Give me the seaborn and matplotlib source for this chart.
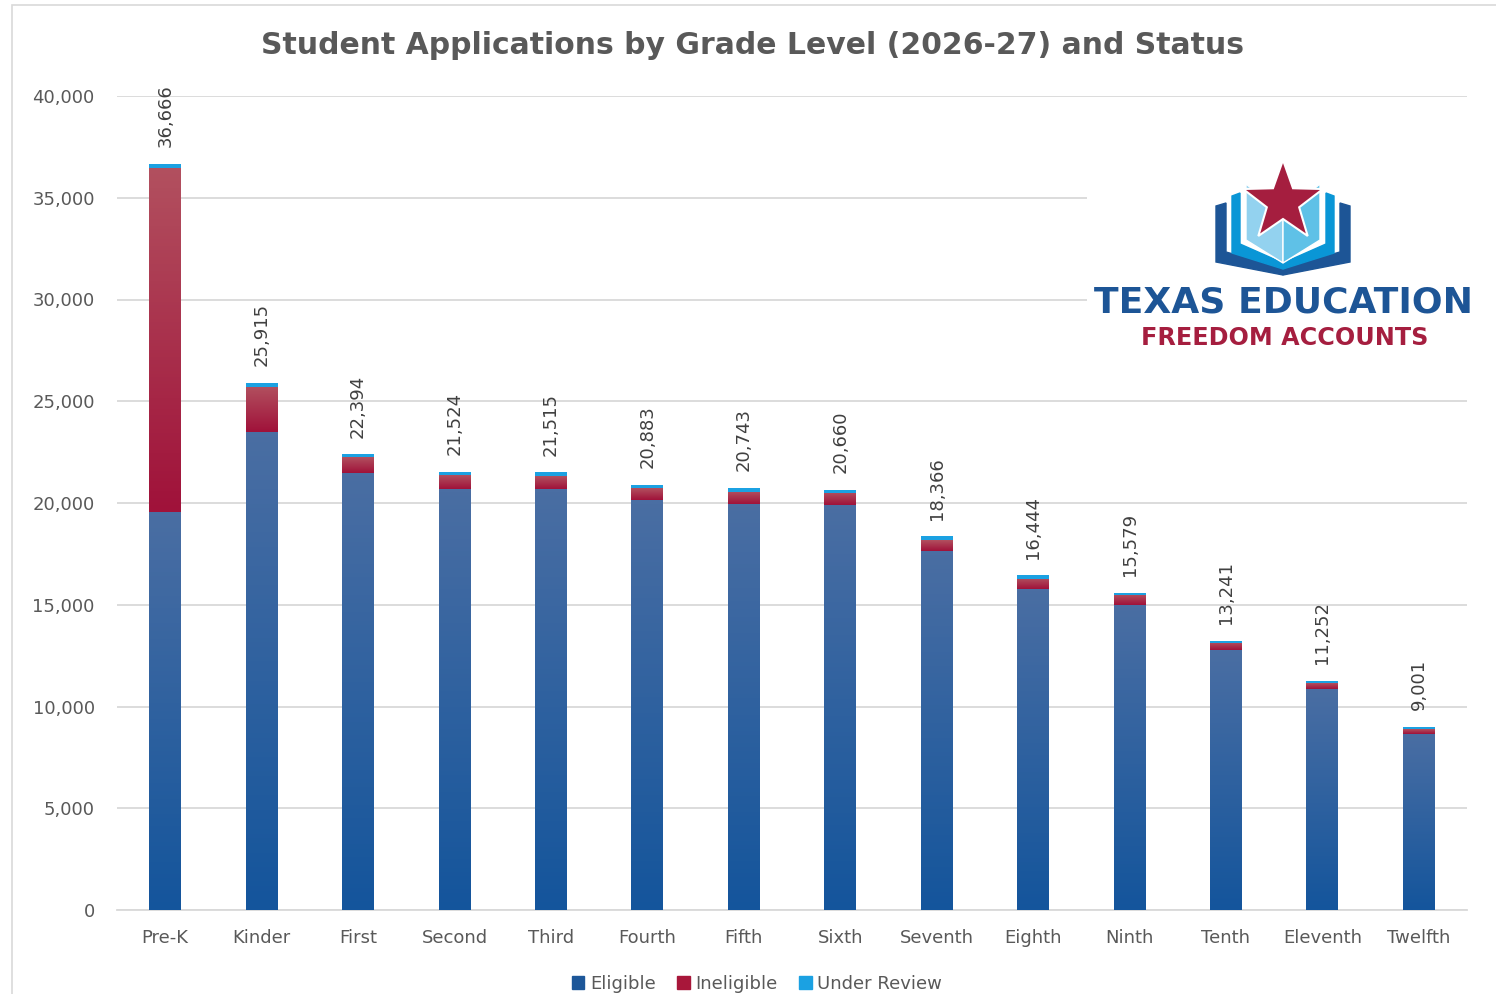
import numpy as np
import pandas as pd
import matplotlib
matplotlib.use("Agg")
import matplotlib.pyplot as plt
from matplotlib.colors import LinearSegmentedColormap
from matplotlib.patches import Rectangle
import seaborn as sns

grades = ["Pre-K", "Kinder", "First", "Second", "Third", "Fourth", "Fifth",
          "Sixth", "Seventh", "Eighth", "Ninth", "Tenth", "Eleventh", "Twelfth"]
eligible = [19540, 23480, 21490, 20690, 20690, 20130, 19970,
            19900, 17640, 15790, 14980, 12760, 10860, 8660]
ineligible = [16930, 2235, 774, 684, 625, 583, 593,
              595, 526, 494, 499, 381, 292, 241]
under_review = [196, 200, 130, 150, 200, 170, 180,
                165, 200, 160, 100, 100, 100, 100]
totals = [36666, 25915, 22394, 21524, 21515, 20883, 20743,
          20660, 18366, 16444, 15579, 13241, 11252, 9001]

df = pd.DataFrame({"grade": grades, "eligible": eligible,
                   "ineligible": ineligible, "review": under_review,
                   "total": totals})
df["elig_inelig"] = df["eligible"] + df["ineligible"]

sns.set_theme(style="white")
plt.rcParams["font.family"] = ["DejaVu Sans"]

fig = plt.figure(figsize=(14.96, 9.94), dpi=100)
ax = fig.add_axes([117 / 1496, 84 / 994, 1350 / 1496, 814 / 994])

text_col = "#595959"
width = 0.33

# layered bars: total (review) -> eligible+ineligible -> eligible
layers = [
    ("total", "#1ba1e2", ("#1ba1e2", "#1ba1e2"), None),
    ("elig_inelig", "#a8173a", ("#b2505f", "#a0123a"), "eligible"),
    ("eligible", "#1d5799", ("#4a6ea3", "#14559c"), None),
]
for i, (col, c, grad, lower) in enumerate(layers):
    n_before = len(ax.patches)
    sns.barplot(data=df, x="grade", y=col, color=c, width=width,
                saturation=1, ax=ax, zorder=3 + i * 2, linewidth=0)
    new = ax.patches[n_before:]
    cmap = LinearSegmentedColormap.from_list("g", [grad[1], grad[0]])
    for j, p in enumerate(new):
        x0 = p.get_x()
        x1 = x0 + p.get_width()
        top = p.get_y() + p.get_height()
        bot = df[lower].iloc[j] if lower else p.get_y()
        im = ax.imshow(np.linspace(0, 1, 100).reshape(-1, 1), cmap=cmap,
                       extent=[x0, x1, bot, top], origin="lower",
                       aspect="auto", zorder=3 + i * 2 + 1)
        im.set_clip_path(p)

# value labels
for j, t in enumerate(df["total"]):
    ax.annotate(f"{t:,}", (j, t), xytext=(0, 12), textcoords="offset points",
                rotation=90, ha="center", va="bottom", fontsize=13,
                color="#404040", clip_on=False, annotation_clip=False)

ax.set_xlim(-0.5, len(grades) - 0.5)
ax.set_ylim(0, 40000)
ax.set_yticks(range(0, 40001, 5000))
ax.set_yticklabels([f"{v:,}" for v in range(0, 40001, 5000)])
ax.yaxis.grid(True, color="#d9d9d9", linewidth=1.3, zorder=0)
ax.set_axisbelow(True)
for s in ["top", "right", "left"]:
    ax.spines[s].set_visible(False)
ax.spines["bottom"].set_color("#d9d9d9")
ax.spines["bottom"].set_linewidth(1.3)
ax.tick_params(axis="both", length=0, labelsize=13, labelcolor=text_col)
ax.tick_params(axis="x", pad=14)
ax.tick_params(axis="y", pad=16)
ax.set_xlabel("")
ax.set_ylabel("")

fig.text(753 / 1496, 1 - 45 / 994,
         "Student Applications by Grade Level (2026-27) and Status",
         ha="center", va="center", fontsize=21.5, fontweight="bold",
         color=text_col)

# legend
handles = [Rectangle((0, 0), 1, 1, color=c) for c in ["#1d5799", "#a8173a", "#1ba1e2"]]
fig.legend(handles, ["Eligible", "Ineligible", "Under Review"], loc="center",
           bbox_to_anchor=(757 / 1496, 1 - 984 / 994), ncol=3, frameon=False,
           fontsize=13, handlelength=0.7, handleheight=0.7, handletextpad=0.3,
           columnspacing=1.2, labelcolor=text_col)

# chart frame
fig.add_artist(Rectangle((12 / 1496, -0.01), 1.1, 1 - 5 / 994 + 0.01,
                         transform=fig.transFigure, fill=False,
                         edgecolor="#d9d9d9", linewidth=1.2))

# logo
lax = fig.add_axes([1087 / 1496, 1 - 355 / 994, 393 / 1496, 200 / 994])
lax.set_xlim(1087, 1480)
lax.set_ylim(355, 155)
lax.set_facecolor("white")
lax.axis("off")
lax.add_patch(Rectangle((1087, 155), 393, 200, color="white", zorder=0))
dark, mid = "#1d5596", "#0a96d6"
lax.fill([1216, 1226, 1226, 1283, 1283, 1216], [206, 203, 252, 268, 275, 262], color=dark)
lax.fill([1350, 1340, 1340, 1283, 1283, 1350], [206, 203, 252, 268, 275, 262], color=dark)
lax.fill([1232, 1240, 1240, 1283, 1283, 1232], [196, 193, 244, 263, 269, 253], color=mid)
lax.fill([1334, 1326, 1326, 1283, 1283, 1334], [196, 193, 244, 263, 269, 253], color=mid)
lax.fill([1246, 1283, 1283, 1246], [184, 214, 263, 240], color="#93d2ef",
         edgecolor="white", linewidth=1)
lax.fill([1320, 1283, 1283, 1320], [184, 214, 263, 240], color="#5fc1e7",
         edgecolor="white", linewidth=1)
ang = np.linspace(np.pi / 2, np.pi / 2 + 2 * np.pi, 11)[:-1]
rad = np.where(np.arange(10) % 2 == 0, 42, 17)
lax.fill(1283 + rad * np.cos(ang), 202 - rad * np.sin(ang), color="#a51e3f",
         edgecolor="white", linewidth=1.5)
lax.text(1284, 302, "TEXAS EDUCATION", ha="center", va="center",
         fontsize=26, fontweight="bold", color=dark, family="DejaVu Sans")
lax.text(1285, 338, "FREEDOM ACCOUNTS", ha="center", va="center",
         fontsize=17.2, fontweight="bold", color="#a51e3f", family="DejaVu Sans")

fig.savefig("out.png", dpi=100, facecolor="white")
